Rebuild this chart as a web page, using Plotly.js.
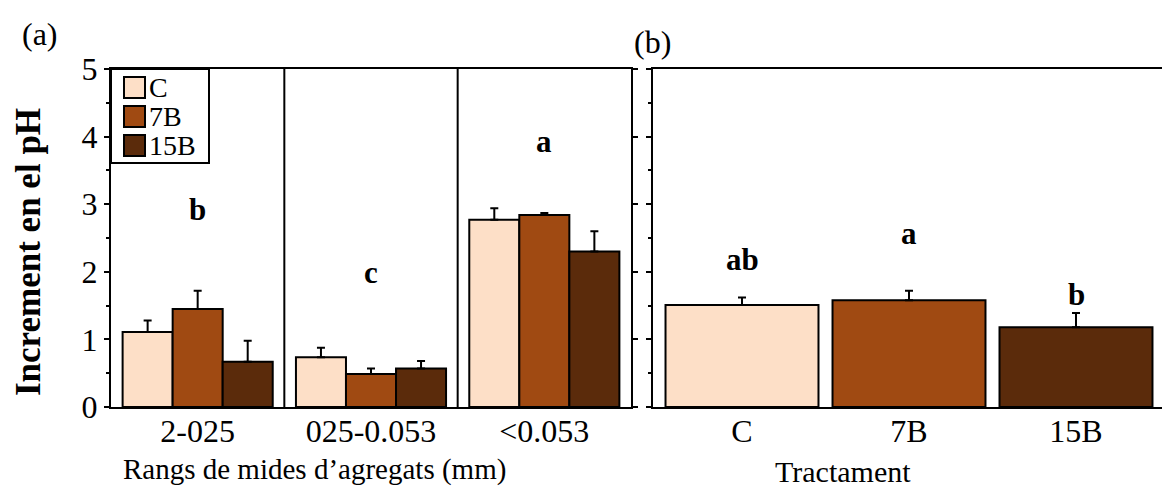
<!DOCTYPE html>
<html>
<head>
<meta charset="utf-8">
<script src="https://cdn.plot.ly/plotly-3.0.1.min.js"></script>
<style>
  html, body { margin: 0; padding: 0; background: #fff; }
  #chart { width: 1162px; height: 490px; }
</style>
</head>
<body>
<div id="chart"></div>
<script>
// Aggregate size classes (panel a) and treatments
const sizeClasses = ['2-025', '025-0.053', '<0.053'];
const treatments = ['C', '7B', '15B'];

// pH increase per size class, one array per treatment, with standard errors
const phC   = [1.11, 0.735, 2.77];
const phC_err = [0.17, 0.14, 0.17];
const ph7B  = [1.45, 0.49, 2.84];
const ph7B_err = [0.27, 0.08, 0.03];
const ph15B = [0.67, 0.57, 2.30];
const ph15B_err = [0.31, 0.11, 0.30];

// Significance letters for size classes
const sizeLetters = ['b', 'c', 'a'];
const sizeLetterY = [2.92, 1.99, 3.93];

// Panel b: mean pH increase per treatment
const phTreat = [1.51, 1.58, 1.18];
const phTreat_err = [0.11, 0.14, 0.21];
const treatLetters = ['ab', 'a', 'b'];
const treatLetterY = [2.18, 2.56, 1.66];

const colors = ['#FDDFC7', '#A04A12', '#5B2B0B'];
const FONT = 'Liberation Serif, Times New Roman, serif';

const seriesMeans = [phC, ph7B, ph15B];
const seriesErrs = [phC_err, ph7B_err, ph15B_err];

const traces = treatments.map((t, i) => ({
  type: 'bar',
  name: t,
  x: sizeClasses,
  y: seriesMeans[i],
  xaxis: 'x', yaxis: 'y',
  marker: { color: colors[i], line: { color: '#000', width: 2 } },
  error_y: {
    type: 'data', symmetric: false,
    array: seriesErrs[i], arrayminus: seriesErrs[i].map(() => 0),
    color: '#000', thickness: 2, width: 4
  },
  showlegend: false, hoverinfo: 'x+y'
}));

traces.push({
  type: 'bar',
  x: treatments,
  y: phTreat,
  xaxis: 'x2', yaxis: 'y2',
  width: 0.916,
  marker: { color: colors, line: { color: '#000', width: 2 } },
  error_y: {
    type: 'data', symmetric: false,
    array: phTreat_err, arrayminus: phTreat_err.map(() => 0),
    color: '#000', thickness: 2, width: 4
  },
  showlegend: false, hoverinfo: 'x+y'
});

// empty trace so the right-hand tick axis of panel a is drawn
traces.push({ type: 'scatter', x: [], y: [], xaxis: 'x', yaxis: 'y3', showlegend: false, hoverinfo: 'skip' });

const W = 1162, H = 490;
const px = v => v / W;
const py = v => (H - v) / H;
const yDomain = [py(407), py(69)];

const tickFont = { family: FONT, size: 32, color: '#000' };

const yBase = {
  range: [0, 5], dtick: 1, tick0: 0,
  showline: true, linecolor: '#000', linewidth: 2,
  ticks: 'outside', ticklen: 5, tickwidth: 2, tickcolor: '#000',
  showgrid: false, zeroline: false, automargin: false, fixedrange: true
};

const annotations = [];
sizeLetters.forEach((l, i) => annotations.push({
  xref: 'x', yref: 'y', x: sizeClasses[i], y: sizeLetterY[i], text: l,
  showarrow: false, font: { family: FONT, size: 31, color: '#000', weight: 'bold' }
}));
treatLetters.forEach((l, i) => annotations.push({
  xref: 'x2', yref: 'y2', x: treatments[i], y: treatLetterY[i], text: l,
  showarrow: false, font: { family: FONT, size: 31, color: '#000', weight: 'bold' }
}));

// panel labels
annotations.push({ xref: 'paper', yref: 'paper', x: px(40), y: py(34), xanchor: 'center', yanchor: 'middle',
  text: '(a)', showarrow: false, font: { family: FONT, size: 32, color: '#000' } });
annotations.push({ xref: 'paper', yref: 'paper', x: px(652), y: py(42), xanchor: 'center', yanchor: 'middle',
  text: '(b)', showarrow: false, font: { family: FONT, size: 32, color: '#000' } });

// axis titles
annotations.push({ xref: 'paper', yref: 'paper', x: px(314), y: py(469), xanchor: 'center', yanchor: 'middle',
  text: 'Rangs de mides d’agregats (mm)', showarrow: false, font: { family: FONT, size: 29, color: '#000' } });
annotations.push({ xref: 'paper', yref: 'paper', x: px(843), y: py(471), xanchor: 'center', yanchor: 'middle',
  text: 'Tractament', showarrow: false, font: { family: FONT, size: 30, color: '#000' } });
annotations.push({ xref: 'paper', yref: 'paper', x: px(29), y: py(252), xanchor: 'center', yanchor: 'middle',
  textangle: -90, text: 'Increment en el pH', showarrow: false,
  font: { family: FONT, size: 35, color: '#000', weight: 'bold' } });

// legend entries drawn inside panel a, top-left corner
const shapes = [];
shapes.push({
  type: 'rect', xref: 'x domain', yref: 'y domain',
  xsizemode: 'pixel', xanchor: 0, x0: 0, x1: 98,
  ysizemode: 'pixel', yanchor: 1, y0: 0, y1: -94,
  line: { color: '#000', width: 2 }, fillcolor: '#fff', layer: 'above'
});
treatments.forEach((t, i) => {
  shapes.push({
    type: 'rect', xref: 'x domain', yref: 'y domain',
    xsizemode: 'pixel', xanchor: 0, x0: 13, x1: 34,
    ysizemode: 'pixel', yanchor: 1, y0: -(8 + 29 * i), y1: -(29 + 29 * i),
    line: { color: '#000', width: 2 }, fillcolor: colors[i], layer: 'above'
  });
  annotations.push({
    xref: 'x domain', yref: 'y domain', x: 0, y: 1,
    xshift: 36, yshift: -(18.5 + 29 * i),
    xanchor: 'left', yanchor: 'middle', text: t, showarrow: false,
    font: { family: FONT, size: 28, color: '#000' }
  });
});

// separators between size classes
[0.5, 1.5].forEach(v => shapes.push({
  type: 'line', xref: 'x', yref: 'y domain', x0: v, x1: v, y0: 0, y1: 1,
  line: { color: '#000', width: 2 }
}));

const layout = {
  width: W, height: H,
  margin: { l: 0, r: 0, t: 0, b: 0 },
  paper_bgcolor: '#fff', plot_bgcolor: '#fff',
  font: { family: FONT, color: '#000' },
  barmode: 'group', bargap: 0.134, bargroupgap: 0,
  showlegend: false,
  xaxis: {
    domain: [px(111), px(631)], anchor: 'y', type: 'category',
    range: [-0.5, 2.5],
    showline: true, mirror: true, linecolor: '#000', linewidth: 2,
    ticks: '', tickfont: tickFont, ticklabelstandoff: -5,
    automargin: false, fixedrange: true
  },
  yaxis: Object.assign({}, yBase, {
    domain: yDomain, anchor: 'x',
    minor: { dtick: 0.5, ticks: 'outside', ticklen: 3, tickwidth: 2, tickcolor: '#000', showgrid: false },
    tickfont: tickFont
  }),
  yaxis3: Object.assign({}, yBase, {
    overlaying: 'y', side: 'right', anchor: 'x', showticklabels: false
  }),
  xaxis2: {
    domain: [px(653), 1], anchor: 'y2', type: 'category',
    range: [-0.533, 2.515],
    showline: true, mirror: true, linecolor: '#000', linewidth: 2,
    ticks: '', tickfont: tickFont, ticklabelstandoff: -5,
    automargin: false, fixedrange: true
  },
  yaxis2: Object.assign({}, yBase, {
    domain: yDomain, anchor: 'x2', showticklabels: false,
    minor: { dtick: 0.5, ticks: 'outside', ticklen: 3, tickwidth: 2, tickcolor: '#000', showgrid: false }
  }),
  shapes: shapes,
  annotations: annotations
};

Plotly.newPlot('chart', traces, layout, { displayModeBar: false, staticPlot: true });
</script>
</body>
</html>
